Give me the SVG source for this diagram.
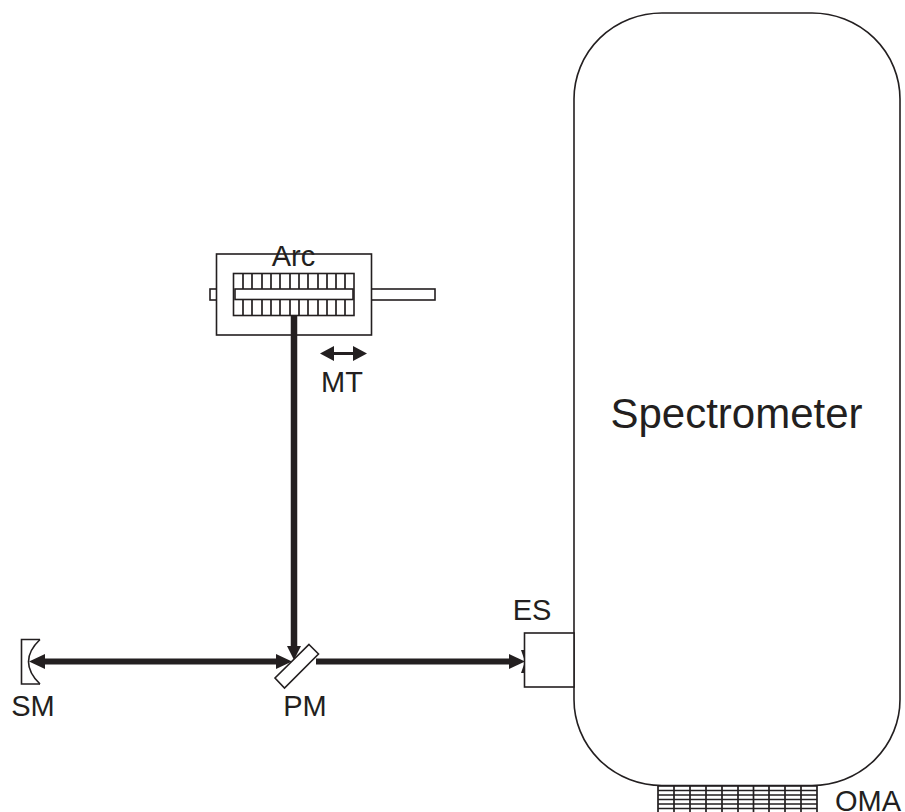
<svg xmlns="http://www.w3.org/2000/svg" width="905" height="812" viewBox="0 0 905 812">
<style>
.l{font-family:"Liberation Sans",Arial,sans-serif;font-size:29px;fill:#231f20}
.o{fill:none;stroke:#231f20;stroke-width:1.6}
.w{fill:#fff;stroke:#231f20;stroke-width:1.6}
.g{fill:none;stroke:#231f20;stroke-width:1.7}
.a{fill:#231f20}
.b{stroke:#231f20;fill:none}
</style>
<rect width="905" height="812" fill="#fff"/>
<g id="spectrometer"><rect class="o" x="574" y="13" width="326" height="772.500" rx="88" ry="86"/><text x="736.500" y="428" text-anchor="middle" class="l" style="font-size:42px">Spectrometer</text></g>
<g id="oma"><path class="g" d="M658 786V812M674 786V812M690 786V812M706 786V812M722 786V812M738 786V812M753.500 786V812M769 786V812M785 786V812M801 786V812M817 786V812M658 786H817M658 790.500H817M658 795H817M658 799.500H817M658 804H817M658 808.500H817"/><text x="835" y="810.500" class="l">OMA</text></g>
<g id="arc"><rect class="w" x="210" y="289" width="7" height="11"/><rect class="w" x="371" y="289" width="64" height="11"/><rect class="w" x="216.500" y="254" width="155" height="81"/>
<rect class="w" x="233.500" y="273.500" width="120.500" height="42"/>
<path class="g" d="M243 274V289M252 274V289M262 274V289M271 274V289M280 274V289M290 274V289M299 274V289M308 274V289M318 274V289M327 274V289M336 274V289M345 274V289M243 300V315M252 300V315M262 300V315M271 300V315M280 300V315M290 300V315M299 300V315M308 300V315M318 300V315M327 300V315M336 300V315M345 300V315"/>
<rect class="w" x="235" y="289" width="118" height="10.500"/><text x="293.500" y="266" text-anchor="middle" class="l">Arc</text></g>
<g id="mt"><path class="b" stroke-width="3" d="M330 353.500H358"/><path class="a" d="M320 353.500L334 346V361ZM367 353.500L353 346V361Z"/><text x="342" y="392" text-anchor="middle" class="l">MT</text></g>
<g id="connectors">
<path class="b" stroke-width="6.500" d="M294 315V648"/><path class="a" d="M287 646H301L294 660Z"/>
<path class="b" stroke-width="6" d="M44 661.500H278"/><path class="a" d="M29 661.500L45 654V669ZM292 661.500L276 654V669Z"/>
<path class="b" stroke-width="6" d="M316 661.500H511"/><path class="a" d="M525 661.500L509 654V669Z"/>
</g>
<g id="sm"><path class="o" d="M40 639.500H21.500V684H40"/><path class="o" d="M40 639.500Q17 661.500 40 684"/><text x="33" y="716" text-anchor="middle" class="l">SM</text></g>
<g id="pm"><path class="w" d="M309 644.500L318.500 654L284.500 688L275 678Z"/><text x="305" y="716" text-anchor="middle" class="l">PM</text></g>
<g id="es"><rect class="w" x="524.500" y="633" width="49.500" height="54"/><path class="a" d="M521 650L525 650V673L521 673L525 661.500Z"/><text x="532" y="620" text-anchor="middle" class="l">ES</text></g>
</svg>
